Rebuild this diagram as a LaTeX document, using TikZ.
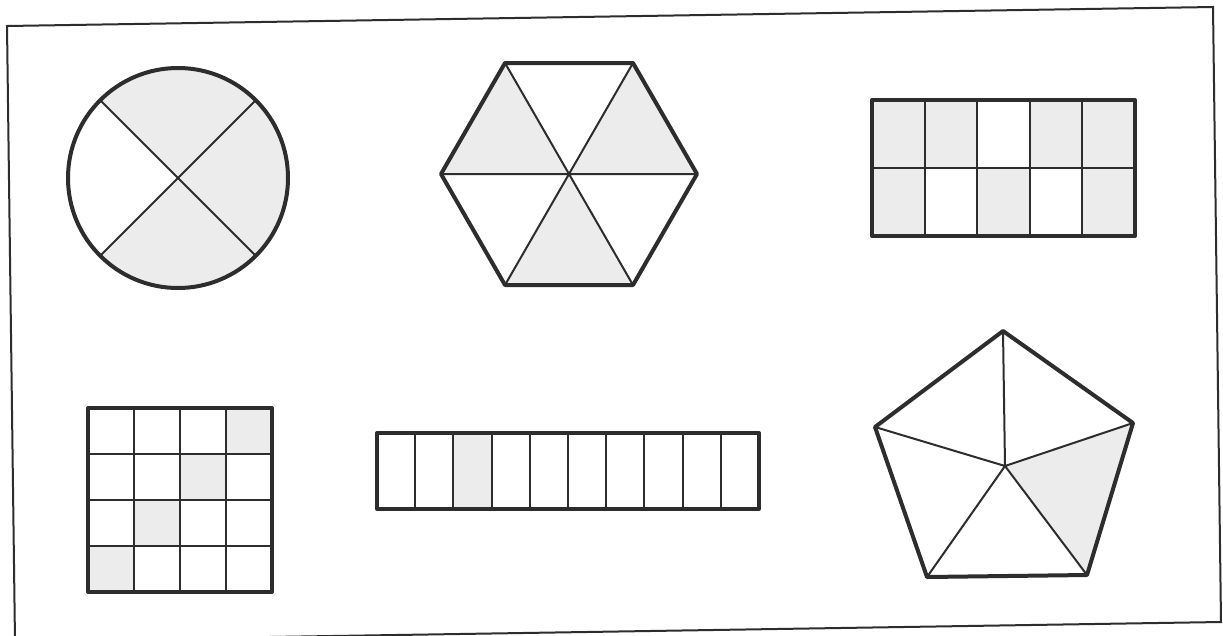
\documentclass[tikz,border=0pt]{standalone}
\usetikzlibrary{calc}
\definecolor{ink}{RGB}{45,45,45}
\definecolor{shadegray}{RGB}{236,236,236}
\tikzset{
  outerline/.style={draw=ink,line width=4pt,line join=round},
  innerline/.style={draw=ink,line width=2pt},
  frameline/.style={draw=ink,line width=2pt},
  shaded/.style={fill=shadegray}
}
\begin{document}
\begin{tikzpicture}[x=1pt,y=-1pt]
\useasboundingbox (0,0) rectangle (1223,635);
\clip (0,0) rectangle (1223,635);
\fill[white] (0,0) rectangle (1223,635);
% frame
\draw[frameline] (7,26) -- (1213,7) -- (1221,622) -- (15,641) -- cycle;

% circle
\coordinate (cc) at (178,178);
\fill[shaded] (cc) circle (110);
\fill[white] (cc) -- ++(135:110) arc (135:225:110) -- cycle;
\draw[innerline] ($(cc)+(45:110)$) -- ($(cc)+(225:110)$);
\draw[innerline] ($(cc)+(135:110)$) -- ($(cc)+(-45:110)$);
\draw[outerline] (cc) circle (110);

% hexagon
\coordinate (hc) at (569,174);
\coordinate (h1) at (505,63);
\coordinate (h2) at (633,63);
\coordinate (h3) at (697,174);
\coordinate (h4) at (633,285);
\coordinate (h5) at (505,285);
\coordinate (h6) at (441,174);
\fill[shaded] (hc) -- (h6) -- (h1) -- cycle;
\fill[shaded] (hc) -- (h2) -- (h3) -- cycle;
\fill[shaded] (hc) -- (h4) -- (h5) -- cycle;
\draw[innerline] (h1) -- (h4) (h2) -- (h5) (h3) -- (h6);
\draw[outerline] (h1) -- (h2) -- (h3) -- (h4) -- (h5) -- (h6) -- cycle;

% 5x2 rectangle
\foreach \c/\r in {0/0,1/0,3/0,4/0,0/1,2/1,4/1}{
  \fill[shaded] (872+\c*52.6,100+\r*68) rectangle ++(52.6,68);
}
\foreach \c in {1,...,4}{
  \draw[innerline] (872+\c*52.6,100) -- (872+\c*52.6,236);
}
\draw[innerline] (872,168) -- (1135,168);
\draw[outerline] (872,100) rectangle (1135,236);

% 4x4 grid
\foreach \c/\r in {3/0,2/1,1/2,0/3}{
  \fill[shaded] (88+\c*46,408+\r*46) rectangle ++(46,46);
}
\foreach \i in {1,2,3}{
  \draw[innerline] (88+\i*46,408) -- (88+\i*46,592);
  \draw[innerline] (88,408+\i*46) -- (272,408+\i*46);
}
\draw[outerline] (88,408) rectangle (272,592);

% 10-strip
\fill[shaded] (377+2*38.2,433) rectangle ++(38.2,76);
\foreach \i in {1,...,9}{
  \draw[innerline] (377+\i*38.2,433) -- (377+\i*38.2,509);
}
\draw[outerline] (377,433) rectangle (759,509);

% pentagon
\coordinate (pc) at (1005,466);
\coordinate (p1) at (1003,331);
\coordinate (p2) at (1133,423);
\coordinate (p3) at (1087,575);
\coordinate (p4) at (927,577);
\coordinate (p5) at (875,427);
\fill[shaded] (pc) -- (p2) -- (p3) -- cycle;
\draw[innerline] (pc) -- (p1) (pc) -- (p2) (pc) -- (p3) (pc) -- (p4) (pc) -- (p5);
\draw[outerline] (p1) -- (p2) -- (p3) -- (p4) -- (p5) -- cycle;
\end{tikzpicture}
\end{document}
